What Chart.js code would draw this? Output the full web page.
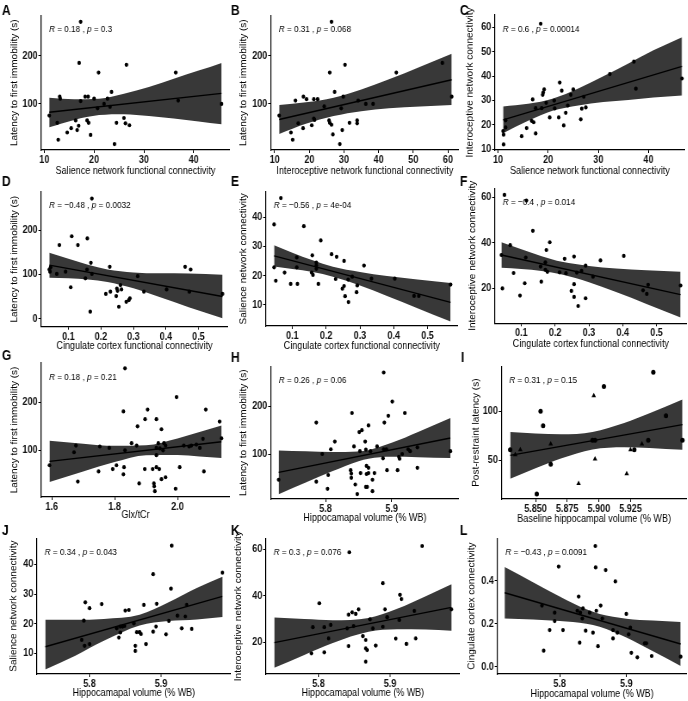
<!DOCTYPE html>
<html>
<head>
<meta charset="utf-8">
<script src="https://cdn.jsdelivr.net/npm/chart.js@4.4.1/dist/chart.umd.min.js"></script>
<style>
html, body { margin: 0; padding: 0; background: #fff; }
#fig { position: relative; width: 688px; height: 701px; overflow: hidden; background: #fff; }
#fig canvas { position: absolute; }
</style>
</head>
<body>
<div id="fig"></div>
<script>
// ---- data ----
var panelLetters = ["A", "B", "C", "D", "E", "F", "G", "H", "I", "J", "K", "L"];
var rValues = ["0.18", "0.31", "0.6", "\u22120.48", "\u22120.56", "\u22120.4", "0.18", "0.26", "0.31", "0.34", "0.3", "\u22120.43"];
var pValues = ["0.3", "0.068", "0.00014", "0.0032", "4e-04", "0.014", "0.21", "0.06", "0.15", "0.043", "0.076", "0.0091"];

var xTitles = ["Salience network functional connectivity", "Interoceptive network functional connectivity",
  "Salience network functional connectivity", "Cingulate cortex functional connectivity",
  "Cingulate cortex functional connectivity", "Cingulate cortex functional connectivity",
  "Glx/tCr", "Hippocamapal volume (% WB)", "Baseline hippocampal volume (% WB)",
  "Hippocamapal volume (% WB)", "Hippocamapal volume (% WB)", "Hippocamapal volume (% WB)"];
var yTitles = ["Latency to first immobility (s)", "Latency to first immobility (s)",
  "Interoceptive network connectivity", "Latency to first immobility (s)",
  "Salience network connectivity", "Interoceptive network connectivity",
  "Latency to first immobility (s)", "Latency to first immobility (s)", "Post-restraint latency (s)",
  "Salience network connectivity", "Interoceptive network connectivity", "Cingulate cortex connectivity"];

var aX = [17.3,17.0,20.9,26.5,36.4,23.5,36.9,45.6,11.0,13.1,13.2,17.3,18.2,18.8,20.0,22.7,20.7,22.0,23.2,12.6,16.3,18.6,18.9,16.9,15.4,14.6,16.6,19.3,12.8,24.1,24.5,26.0,26.3,27.1];
var aY = [270,185,165,181,165,125,107,100,76,115,111,106,115,115,111,111,91,100,94,61,66,66,61,55,50,41,46,36,26,17,61,71,60,56];
var aLineX = [11.0, 45.6], aLineY = [83, 122];
var aBandX = [11, 16, 21, 26, 31, 36, 41, 45.6];
var aBandUp = [113, 110, 111, 121, 135, 152, 169, 185];
var aBandLo = [52, 67, 77, 79, 75, 70, 64, 58];
var aXTicks = ["10", "20", "30", "40"], aYTicks = ["100", "200"];

var bX = [26.4,30.3,58.4,45.1,25.9,27.3,29.8,34.1,36.3,38.4,61.1,11.3,16.0,18.3,19.2,21.3,22.4,24.3,29.2,21.3,21.5,16.8,18.2,20.7,25.7,25.9,26.4,26.8,29.5,31.6,33.8,33.8,14.7,15.2,28.8];
var bY = [270,181,185,165,165,125,115,107,100,100,115,76,107,115,110,110,110,95,91,70,67,60,50,56,66,61,57,37,46,61,66,60,41,26,17];
var bLineX = [11.3, 61.1], bLineY = [68, 150];
var bBandX = [11.3, 19, 27, 35, 43, 52, 61.1];
var bBandUp = [98, 103.5, 113, 130, 151, 177, 204];
var bBandLo = [38, 59, 75, 85, 91, 95, 98];
var bXTicks = ["10", "20", "30", "40", "50", "60"], bYTicks = ["100", "200"];

var cX = [11.1,11.0,11.1,11.5,11.5,14.7,15.7,17.5,16.7,17.1,16.9,17.5,19.0,19.2,18.9,18.7,19.6,21.2,21.3,20.3,22.1,22.3,22.7,23.1,23.5,23.9,24.5,25.0,26.5,26.7,27.1,27.5,32.3,37.1,37.5,46.7,18.5];
var cY = [11.9,17.4,15.9,18.9,21.8,15.3,18.6,16.4,21.6,21.0,30.4,26.8,33.2,34.5,32.3,26.8,29.0,29.9,26.7,23.0,23.0,37.3,34.0,19.7,24.9,27.9,32.3,34.5,22.2,26.6,31.5,27.1,40.8,45.9,34.8,39.0,61.5];
var cLineX = [11.0, 46.7], cLineY = [22, 44];
var cBandX = [11, 16, 21, 26, 31, 36, 41, 46.7];
var cBandUp = [27.5, 28.6, 30.8, 34.9, 39.9, 45.2, 50.6, 56];
var cBandLo = [16.5, 21.6, 25.8, 27.9, 29.3, 30.2, 31.2, 32];
var cXTicks = ["10", "20", "30", "40"], cYTicks = ["10", "20", "30", "40", "50", "60"];

var dX = [0.172,0.110,0.072,0.129,0.158,0.169,0.227,0.459,0.476,0.157,0.041,0.043,0.045,0.091,0.064,0.172,0.152,0.313,0.107,0.260,0.402,0.472,0.332,0.574,0.215,0.229,0.249,0.251,0.263,0.247,0.278,0.289,0.286,0.255,0.167];
var dY = [271,186,166,166,181,126,117,117,111,111,111,106,116,106,101,101,91,96,71,76,66,61,61,56,56,61,68,63,66,51,38,46,42,27,16];
var dLineX = [0.041, 0.574], dLineY = [121, 50];
var dBandX = [0.041, 0.1, 0.16, 0.22, 0.3, 0.38, 0.47, 0.574];
var dBandUp = [149, 135, 121.5, 111, 104.5, 102.5, 102, 99];
var dBandLo = [92.5, 91, 88.5, 83, 68.5, 49, 26, 1];
var dXTicks = ["0.1", "0.2", "0.3", "0.4", "0.5"], dYTicks = ["0", "100", "200"];

var eX = [0.066,0.046,0.134,0.184,0.216,0.159,0.231,0.171,0.253,0.312,0.171,0.171,0.046,0.051,0.077,0.113,0.113,0.157,0.161,0.095,0.115,0.177,0.228,0.265,0.334,0.403,0.277,0.248,0.253,0.292,0.256,0.290,0.266,0.460,0.474,0.568];
var eY = [46.6,37.6,37.0,32.1,27.4,27.0,26.5,24.5,25.1,23.5,23.5,22.4,22.9,18.3,21.1,22.9,26.3,21.1,20.3,17.2,17.2,17.2,18.9,18.7,19.0,19.0,19.7,15.6,16.5,16.7,13.0,14.4,11.0,13.1,13.1,17.0];
var eLineX = [0.046, 0.568], eLineY = [26.8, 10.9];
var eBandX = [0.046, 0.1, 0.16, 0.22, 0.3, 0.38, 0.47, 0.568];
var eBandUp = [30.5, 27.9, 25.3, 23.1, 21.3, 19.9, 18.7, 17.5];
var eBandLo = [23.2, 22.3, 21.3, 19.7, 16.7, 13.1, 8.9, 4.3];
var eXTicks = ["0.1", "0.2", "0.3", "0.4", "0.5"], eYTicks = ["10", "20", "30", "40"];

var fX = [0.050,0.115,0.134,0.184,0.174,0.041,0.067,0.113,0.256,0.334,0.403,0.228,0.171,0.290,0.157,0.171,0.177,0.077,0.213,0.232,0.264,0.278,0.312,0.110,0.159,0.044,0.248,0.256,0.096,0.256,0.290,0.268,0.460,0.475,0.471,0.571];
var fY = [61.0,58.5,45.2,40.2,36.8,34.6,38.9,33.5,33.9,32.2,34.2,32.9,31.4,29.9,29.5,28.1,27.2,26.7,27.0,26.6,26.9,27.6,25.1,22.2,22.9,19.9,18.8,21.8,16.8,16.2,15.6,12.2,19.1,21.5,17.5,21.2];
var fLineX = [0.041, 0.571], fLineY = [34.6, 17.2];
var fBandX = [0.041, 0.1, 0.16, 0.22, 0.3, 0.38, 0.47, 0.571];
var fBandUp = [40.2, 37.1, 34.1, 31.6, 29.8, 28.7, 27.9, 27.2];
var fBandLo = [29.0, 28.5, 27.6, 26.0, 22.6, 18.3, 13.1, 7.2];
var fXTicks = ["0.1", "0.2", "0.3", "0.4", "0.5"], fYTicks = ["20", "40", "60"];

var gX = [1.833,1.997,1.828,1.905,2.090,1.897,1.933,2.134,1.873,1.949,1.854,1.870,1.939,1.957,1.962,1.933,1.944,2.020,2.037,2.044,2.060,2.071,2.081,2.140,1.833,1.753,1.783,1.677,1.671,1.593,1.933,1.954,1.806,1.794,1.830,1.749,1.828,1.896,1.921,1.933,1.942,2.007,2.084,1.949,1.962,1.683,1.878,1.925,1.926,1.928,1.994];
var gY = [271,211,181,185,185,165,165,160,150,144,115,110,115,115,110,105,104,110,108,110,112,105,124,125,100,108,105,110,96,69,90,100,69,61,65,56,50,61,61,65,61,65,56,40,44,35,31,31,25,15,20];
var gLineX = [1.593, 2.14], gLineY = [77, 118];
var gBandX = [1.593, 1.7, 1.8, 1.9, 2.0, 2.07, 2.14];
var gBandUp = [120, 114, 109.5, 110.4, 124.5, 138, 152];
var gBandLo = [34, 56, 75.5, 89.6, 90.5, 87.4, 84];
var gXTicks = ["1.6", "1.8", "2.0"], gYTicks = ["100", "200"];

var hX = [5.888,5.901,5.840,5.920,5.895,5.786,5.889,5.865,5.855,5.851,5.814,5.860,5.808,5.795,5.843,5.852,5.861,5.868,5.878,5.888,5.892,5.887,5.911,5.912,5.916,5.925,5.928,5.939,5.989,5.729,5.786,5.804,5.803,5.838,5.839,5.839,5.853,5.862,5.865,5.865,5.862,5.874,5.871,5.845,5.861,5.863,5.871,5.848,5.893,5.909,5.939];
var hY = [271,210,186,186,180,166,166,160,150,146,126,126,110,100,116,106,109,106,116,110,110,91,94,90,100,110,106,114,106,46,42,56,27,66,59,50,60,75,71,60,58,60,46,36,31,31,22,16,66,66,71];
var hLineX = [5.729, 5.989], hLineY = [61.5, 133.5];
var hBandX = [5.729, 5.77, 5.81, 5.85, 5.865, 5.9, 5.94, 5.989];
var hBandUp = [107.5, 105.7, 104.2, 105.3, 108.1, 123.5, 146.4, 175.6];
var hBandLo = [15.5, 40.1, 63.6, 84.7, 90.1, 94.1, 93.4, 91.4];
var hXTicks = ["5.8", "5.9"], hYTicks = ["100", "200"];

// panel I has two groups: circles and triangles
var iCircleX = [5.943,5.904,5.854,5.856,5.953,5.830,5.895,5.897,5.939,5.966,5.928,5.862,5.851];
var iCircleY = [140,125.5,100,85.4,95.6,60.9,70.4,70.4,70.4,70.4,60.9,45.9,15.6];
var iTriX = [5.896,5.862,5.838,5.834,5.897,5.934,5.925,5.884,5.922];
var iTriY = [116,66.7,60.9,55.8,51.4,66.7,60.9,26.2,36.4];
var iLineX = [5.830, 5.966], iLineY = [55, 86.4];
var iBandX = [5.83, 5.85, 5.87, 5.895, 5.92, 5.94, 5.966];
var iBandUp = [78.8, 77.3, 76.6, 79, 88.1, 98.1, 112.1];
var iBandLo = [31.2, 41.9, 51.8, 61, 63.3, 62.7, 60.7];
var iXTicks = ["5.850", "5.875", "5.900", "5.925"], iYTicks = ["50", "100"];

var jX = [5.915,5.889,5.986,5.914,5.794,5.876,5.894,5.800,5.817,5.850,5.855,5.792,5.923,5.934,5.911,5.936,5.862,5.838,5.843,5.846,5.849,5.893,5.843,5.841,5.866,5.870,5.872,5.889,5.907,5.929,5.943,5.789,5.793,5.800,5.864,5.864,5.879];
var jY = [46.3,36.7,37.2,31.8,27.2,26.3,26.7,25.2,26.6,24.4,24.6,21.0,22.7,22.4,20.9,26.3,20.1,18.4,19.0,19.0,19.2,19.0,17.0,15.3,17.1,17.1,16.5,17.3,16.4,18.4,18.2,14.5,12.5,13.1,12.5,10.8,13.1];
var jLineX = [5.738, 5.986], jLineY = [12.2, 29.2];
var jBandX = [5.738, 5.78, 5.82, 5.87, 5.91, 5.95, 5.986];
var jBandUp = [21.3, 21.3, 21.6, 23.0, 27.1, 32.0, 35.8];
var jBandLo = [4.5, 9.2, 14.2, 19.4, 20.9, 21.4, 22.2];
var jXTicks = ["5.8", "5.9"], jYTicks = ["10", "20", "30", "40"];

var kX = [5.945,5.843,5.890,5.801,5.914,5.916,5.856,5.847,5.852,5.842,5.893,5.986,5.934,5.872,5.896,5.913,5.817,5.849,5.840,5.792,5.808,5.876,5.890,5.814,5.862,5.866,5.908,5.936,5.923,5.842,5.880,5.866,5.868,5.790,5.808,5.866];
var kY = [61.4,58.7,45.4,36.8,40.4,38.6,34.2,32.9,32.2,31.9,34.2,34.2,33.5,29.9,30.8,29.6,27.5,27.0,26.0,26.5,26.5,26.0,26.7,21.7,22.7,21.0,21.6,21.7,19.3,18.4,18.6,17.4,16.7,15.3,15.7,11.7];
var kLineX = [5.738, 5.986], kLineY = [19.9, 35];
var kBandX = [5.738, 5.78, 5.82, 5.87, 5.91, 5.95, 5.986];
var kBandUp = [30.7, 30.0, 29.5, 30.5, 34.4, 39.8, 45];
var kBandLo = [9.1, 14.6, 19.7, 24.5, 25.6, 25.5, 25];
var kXTicks = ["5.8", "5.9"], kYTicks = ["20", "40", "60"];

var lX = [5.8535,5.7985,5.854,5.869,5.8835,5.8285,5.7735,5.8615,5.835,5.8265,5.855,5.831,5.845,5.7925,5.9,5.864,5.834,5.7925,5.88,5.805,5.785,5.839,5.906,5.85,5.8865,5.9035,5.88,5.83,5.8575,5.9275,5.93,5.776,5.9075,5.9165,5.938,5.9815];
var lY = [0.563,0.467,0.463,0.451,0.398,0.327,0.285,0.285,0.272,0.261,0.261,0.252,0.252,0.252,0.246,0.225,0.225,0.213,0.171,0.171,0.171,0.168,0.182,0.159,0.159,0.151,0.132,0.112,0.096,0.109,0.109,0.075,0.065,0.044,0.050,0.047];
var lLineX = [5.7175, 5.9815], lLineY = [0.345, 0.106];
var lBandX = [5.7175, 5.76, 5.8, 5.84, 5.86, 5.9, 5.94, 5.9815];
var lBandUp = [0.465, 0.394, 0.328, 0.268, 0.246, 0.224, 0.215, 0.209];
var lBandLo = [0.225, 0.22, 0.213, 0.2, 0.186, 0.136, 0.072, 0.003];
var lXTicks = ["5.8", "5.9"], lYTicks = ["0.0", "0.2", "0.4"];

// ---- panels: data + axis ranges ----
var panels = [
  {pts: [[aX, aY, 'circle']], line: [aLineX, aLineY], band: [aBandX, aBandUp, aBandLo], xt: aXTicks, yt: aYTicks, xr: [9.34, 47.3], yr: [4.8, 283]},
  {pts: [[bX, bY, 'circle']], line: [bLineX, bLineY], band: [bBandX, bBandUp, bBandLo], xt: bXTicks, yt: bYTicks, xr: [8.86, 63.2], yr: [4.8, 283]},
  {pts: [[cX, cY, 'circle']], line: [cLineX, cLineY], band: [cBandX, cBandUp, cBandLo], xt: cXTicks, yt: cYTicks, xr: [9.33, 47.3], yr: [9.6, 65.1]},
  {pts: [[dX, dY, 'circle']], line: [dLineX, dLineY], band: [dBandX, dBandUp, dBandLo], xt: dXTicks, yt: dYTicks, xr: [0.0155, 0.591], yr: [-18, 286.5]},
  {pts: [[eX, eY, 'circle']], line: [eLineX, eLineY], band: [eBandX, eBandUp, eBandLo], xt: eXTicks, yt: eYTicks, xr: [0.0212, 0.59], yr: [2.8, 48.8]},
  {pts: [[fX, fY, 'circle']], line: [fLineX, fLineY], band: [fBandX, fBandUp, fBandLo], xt: fXTicks, yt: fYTicks, xr: [0.0212, 0.59], yr: [4.6, 63.9]},
  {pts: [[gX, gY, 'circle']], line: [gLineX, gLineY], band: [gBandX, gBandUp, gBandLo], xt: gXTicks, yt: gYTicks, xr: [1.566, 2.167], yr: [2.8, 282]},
  {pts: [[hX, hY, 'circle']], line: [hLineX, hLineY], band: [hBandX, hBandUp, hBandLo], xt: hXTicks, yt: hYTicks, xr: [5.717, 6.002], yr: [5.6, 284]},
  {pts: [[iCircleX, iCircleY, 'circle'], [iTriX, iTriY, 'triangle']], line: [iLineX, iLineY], band: [iBandX, iBandUp, iBandLo], xt: iXTicks, yt: iYTicks, xr: [5.823, 5.9696], yr: [10.5, 146]},
  {pts: [[jX, jY, 'circle']], line: [jLineX, jLineY], band: [jBandX, jBandUp, jBandLo], xt: jXTicks, yt: jYTicks, xr: [5.726, 5.998], yr: [3.0, 48.8]},
  {pts: [[kX, kY, 'circle']], line: [kLineX, kLineY], band: [kBandX, kBandUp, kBandLo], xt: kXTicks, yt: kYTicks, xr: [5.726, 5.998], yr: [6.4, 64.7]},
  {pts: [[lX, lY, 'circle']], line: [lLineX, lLineY], band: [lBandX, lBandUp, lBandLo], xt: lXTicks, yt: lYTicks, xr: [5.7065, 5.991], yr: [-0.034, 0.599]}
];

// ---- page layout (px): cell origin, plot box, title centres, letter ----
// [x0, y0, left, top, right, bottom, yTitleX, xTitleY, letterX, letterBaseline]
var boxes = [
  [0, 0, 41, 15.5, 230, 150, 15, 171.5, 2, 15],
  [229, 0, 270.7, 15.5, 459, 150, 244, 171.5, 231, 15],
  [458, 0, 494.7, 15, 684.5, 150, 470, 171.5, 460, 15],
  [0, 172, 41, 191.7, 227.5, 326.7, 15, 346.5, 2, 185.5],
  [229, 172, 265.7, 191.7, 458, 326, 244, 346.5, 231, 185.5],
  [458, 172, 494.7, 188.3, 687, 323.3, 473, 344, 460, 185.5],
  [0, 346, 41, 363, 230, 497, 15, 515, 2, 360],
  [229, 346, 270.7, 366.3, 459, 499, 244, 518.5, 231, 362],
  [458, 346, 501.3, 366.3, 687, 499, 476, 519, 461, 362],
  [0, 522, 36.7, 538.3, 230.7, 674, 14, 693.3, 2, 535],
  [229, 522, 265.7, 538.3, 459.7, 674, 239, 693.3, 231, 535],
  [458, 522, 497.3, 538.3, 687, 674, 472, 694, 460, 535]
];

var SX = 0.86; // the original figure is squeezed horizontally
var FONT = '"Liberation Sans", Arial, Helvetica, sans-serif';
var BAND = 'rgb(56,56,56)';
var fig = document.getElementById('fig');

function xy(xs, ys) {
  return xs.map(function (x, i) { return {x: x, y: ys[i]}; });
}

// letter, R/p note and axis titles
var panelText = {
  id: 'panelText',
  afterDatasetsDraw: function (chart, args, o) {
    var ctx = chart.ctx, a = chart.chartArea;
    ctx.save();
    ctx.fillStyle = '#000';
    ctx.textBaseline = 'middle';
    var x = a.left + 8 / o.sx, y = a.top + 14;
    [['R', 1], [' = ' + o.r + ' , ', 0], ['p', 1], [' = ' + o.p, 0]].forEach(function (s) {
      ctx.font = (s[1] ? 'italic ' : '') + '9.5px ' + FONT;
      ctx.fillText(s[0], x, y);
      x += ctx.measureText(s[0]).width;
    });
    ctx.textAlign = 'center';
    ctx.font = '10.5px ' + FONT;
    ctx.fillText(o.xTitle, (a.left + a.right) / 2, o.xTitleY);
    ctx.save();
    ctx.font = '10px ' + FONT;
    ctx.translate(o.yTitleX, (a.top + a.bottom) / 2);
    ctx.rotate(-Math.PI / 2);
    ctx.fillText(o.yTitle, 0, 0);
    ctx.restore();
    ctx.font = 'bold 14px ' + FONT;
    ctx.textAlign = 'left';
    ctx.textBaseline = 'alphabetic';
    ctx.fillText(o.letter, o.lx, o.ly);
    ctx.restore();
  }
};

function axis(range, labels, fit) {
  var vals = labels.map(Number);
  return {
    type: 'linear', min: range[0], max: range[1], bounds: 'data',
    afterBuildTicks: function (s) { s.ticks = vals.map(function (v) { return {value: v}; }); },
    afterFit: fit,
    border: {display: true, color: '#000', width: 1.2},
    grid: {display: true, drawOnChartArea: false, drawTicks: true, tickLength: 3, tickColor: '#000', tickWidth: 1},
    ticks: {
      autoSkip: false, maxRotation: 0, padding: 1, color: '#111',
      font: {family: FONT, size: 10.5, weight: 'bold'},
      callback: function (v, i) { return labels[i]; }
    }
  };
}

panels.forEach(function (p, n) {
  var b = boxes[n];
  var x0 = b[0], y0 = b[1];
  var cssW = Math.round(b[4] - x0);
  var cssH = Math.round(b[7] + 8 - y0);
  var cv = document.createElement('canvas');
  cv.width = Math.round(cssW / SX);
  cv.height = cssH;
  cv.style.left = x0 + 'px';
  cv.style.top = y0 + 'px';
  cv.style.width = cssW + 'px';
  cv.style.height = cssH + 'px';
  fig.appendChild(cv);
  var sx = cssW / cv.width;
  var yW = (b[2] - x0) / sx;
  var xH = cssH - (b[5] - y0);

  var sets = p.pts.map(function (g) {
    return {
      data: xy(g[0], g[1]), showLine: false, pointStyle: g[2],
      pointRadius: g[2] === 'triangle' ? 3 : (n === 8 ? 2.5 : 2.1),
      pointBackgroundColor: '#000', pointBorderColor: '#000', pointBorderWidth: 0, order: 0
    };
  });
  sets.push({data: xy(p.line[0], p.line[1]), borderColor: '#000', borderWidth: 1.4, pointRadius: 0, order: 1});
  var k = sets.length;
  sets.push({data: xy(p.band[0], p.band[1]), borderColor: 'rgba(0,0,0,0)', borderWidth: 0, pointRadius: 0,
    backgroundColor: BAND, fill: k + 1, cubicInterpolationMode: 'monotone', order: 2});
  sets.push({data: xy(p.band[0], p.band[2]), borderColor: 'rgba(0,0,0,0)', borderWidth: 0, pointRadius: 0,
    fill: false, cubicInterpolationMode: 'monotone', order: 3});

  new Chart(cv, {
    type: 'line',
    data: {datasets: sets},
    options: {
      responsive: false,
      animation: false,
      events: [],
      layout: {autoPadding: false, padding: {left: 0, right: 0, top: b[3] - y0, bottom: 0}},
      plugins: {
        legend: {display: false},
        tooltip: {enabled: false},
        panelText: {
          sx: sx, r: rValues[n], p: pValues[n], letter: panelLetters[n],
          xTitle: xTitles[n], yTitle: yTitles[n],
          xTitleY: b[7] - y0, yTitleX: (b[6] - x0) / sx,
          lx: (b[8] - x0) / sx, ly: b[9] - y0
        }
      },
      scales: {
        x: axis(p.xr, p.xt, function (s) { s.height = xH; }),
        y: axis(p.yr, p.yt, function (s) { s.width = yW; })
      }
    },
    plugins: [panelText]
  });
});
</script>
</body>
</html>
